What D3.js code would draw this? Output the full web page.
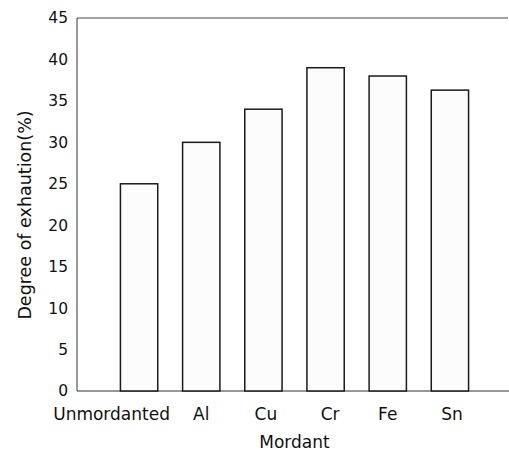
<!DOCTYPE html>
<html><head><meta charset="utf-8">
<script src="https://cdn.jsdelivr.net/npm/d3@7/dist/d3.min.js"></script>
<style>body{margin:0;background:#fff}svg{display:block}text{font-family:"DejaVu Sans",sans-serif;fill:#111}</style>
</head><body>
<script>
const categories = ["Unmordanted","Al","Cu","Cr","Fe","Sn"];
const values = [25, 30, 34, 39, 38, 36.3];
const yTicks = [0,5,10,15,20,25,30,35,40,45];
const xTitle = "Mordant";
const yTitle = "Degree of exhaution(%)";

const W = 509, H = 454;
const m = {left:77, right:0, top:18, bottom:63};
const svg = d3.select("body").append("svg").attr("width",W).attr("height",H);
const x = d3.scaleBand().domain(categories).range([108, 481]).paddingInner(0.4).paddingOuter(0.2);
const y = d3.scaleLinear().domain([0,45]).range([H-m.bottom, m.top]);

// frame: left and top lines, baseline
svg.append("line").attr("x1",m.left).attr("x2",m.left).attr("y1",y(45)).attr("y2",y(0)).attr("stroke","#333").attr("stroke-width",1);
svg.append("line").attr("x1",m.left).attr("x2",W-1).attr("y1",y(45)).attr("y2",y(45)).attr("stroke","#444").attr("stroke-width",1);
svg.append("line").attr("x1",m.left).attr("x2",W).attr("y1",y(0)).attr("y2",y(0)).attr("stroke","#333").attr("stroke-width",1.2);

// y axis
const ya = d3.axisLeft(y).tickValues(yTicks).tickSize(0).tickPadding(9);
const g = svg.append("g").attr("transform",`translate(${m.left},0)`).call(ya);
g.select(".domain").remove();
g.selectAll("text").style("font-size","15.5px").style("font-family","'DejaVu Sans',sans-serif").attr("fill","#111");

// bars
svg.selectAll("rect.bar").data(categories).enter().append("rect").attr("class","bar")
  .attr("x",d=>x(d)).attr("width",x.bandwidth())
  .attr("y",(d,i)=>y(values[i])).attr("height",(d,i)=>y(0)-y(values[i]))
  .attr("fill","#fcfcfc").attr("stroke","#1a1a1a").attr("stroke-width",1.5);

// x labels
const labelOffsets = [-27.5,0,2.5,4.5,0,2];
svg.selectAll("text.xl").data(categories).enter().append("text").attr("class","xl")
  .attr("x",(d,i)=>x(d)+x.bandwidth()/2+labelOffsets[i]).attr("y",y(0)+29)
  .attr("text-anchor","middle").style("font-size","17px").text(d=>d);

svg.append("text").attr("x",294.5).attr("y",y(0)+57).attr("text-anchor","middle").style("font-size","17px").text(xTitle);
svg.append("text").attr("transform",`translate(31,${215}) rotate(-90)`).attr("text-anchor","middle").style("font-size","17.5px").text(yTitle);
</script>
</body></html>
